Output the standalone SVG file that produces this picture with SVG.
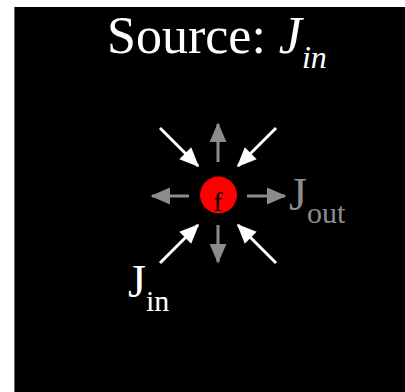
<svg xmlns="http://www.w3.org/2000/svg" width="405" height="392" viewBox="0 0 405 392">
<defs>
<style>
.t{font-family:"Liberation Serif","Times New Roman",serif;}
.w{stroke:#fff;stroke-width:3;fill:none}
.g{stroke:#8c8c8c;stroke-width:3;fill:none}
</style>
<marker id="aw" markerWidth="7" markerHeight="6" refX="6" refY="2.8" orient="auto" markerUnits="strokeWidth" overflow="visible">
<path d="M0,0 L6.5,2.8 L0,5.6 z" fill="#fff"/>
</marker>
<marker id="ag" markerWidth="7" markerHeight="6" refX="6" refY="2.8" orient="auto" markerUnits="strokeWidth" overflow="visible">
<path d="M0,0 L6.5,2.8 L0,5.6 z" fill="#8c8c8c"/>
</marker>
</defs>
<rect x="0" y="0" width="405" height="392" fill="#fff"/>
<rect x="14" y="7" width="391" height="385" fill="#000"/>
<line x1="14.5" y1="7" x2="14.5" y2="392" stroke="#666" stroke-width="1"/>
<g id="title">
<text class="t" x="107" y="53" font-size="52" fill="#fff">Source: <tspan font-style="italic">J</tspan><tspan font-style="italic" font-size="32" dy="15">in</tspan></text>
</g>
<g id="connectors">
<line class="w" x1="160" y1="128" x2="198" y2="166" marker-end="url(#aw)"/>
<line class="w" x1="276" y1="128" x2="238" y2="166" marker-end="url(#aw)"/>
<line class="w" x1="160" y1="263" x2="198" y2="225" marker-end="url(#aw)"/>
<line class="w" x1="276" y1="263" x2="238" y2="225" marker-end="url(#aw)"/>
<line class="g" x1="218" y1="162" x2="218" y2="124" marker-end="url(#ag)"/>
<line class="g" x1="218" y1="225" x2="218" y2="262" marker-end="url(#ag)"/>
<line class="g" x1="189" y1="196" x2="152" y2="196" marker-end="url(#ag)"/>
<line class="g" x1="247" y1="196" x2="285" y2="196" marker-end="url(#ag)"/>
</g>
<g id="node-f">
<circle cx="218.5" cy="195" r="18.5" fill="#f00"/>
<text class="t" x="218" y="211" font-size="28" fill="#000" text-anchor="middle">f</text>
</g>
<g id="label-jin">
<text class="t" x="128" y="297" font-size="46" fill="#fff">J<tspan font-size="30" dy="14">in</tspan></text>
</g>
<g id="label-jout">
<text class="t" x="289" y="210" font-size="46" fill="#8c8c8c">J<tspan font-size="30" dy="13">out</tspan></text>
</g>
</svg>
